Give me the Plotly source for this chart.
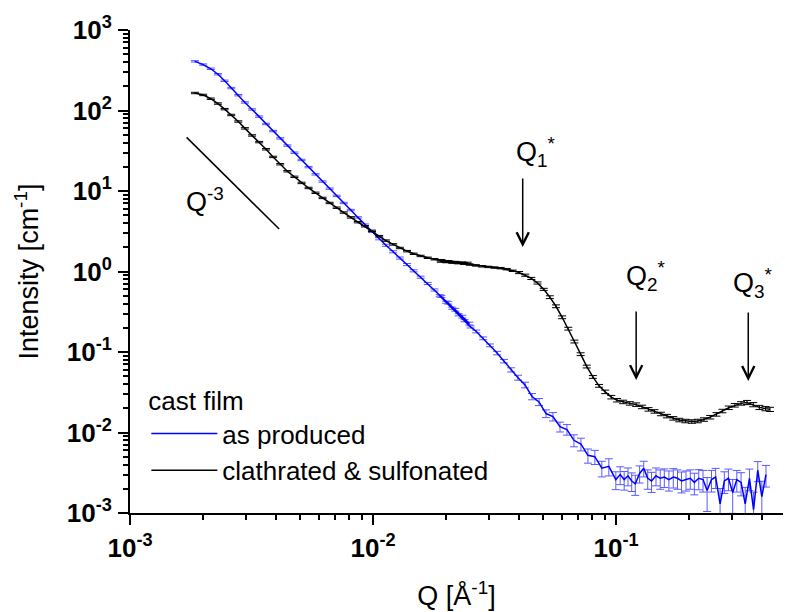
import math
import plotly.graph_objects as go

# ---------------- data ----------------
blue_q = [0.00185, 0.00200, 0.00215, 0.00230, 0.00245, 0.00261, 0.00279, 0.00297, 0.00318, 0.00340,
          0.00363, 0.00388, 0.00415, 0.00444, 0.00475, 0.00508, 0.00543, 0.00580, 0.00620, 0.00663,
          0.00709, 0.00758, 0.00810, 0.00866, 0.00926, 0.00990, 0.0106, 0.0113, 0.0121, 0.0129,
          0.0138, 0.0147, 0.0157, 0.0168, 0.0179, 0.0191, 0.0204, 0.0218, 0.0233, 0.0249,
          0.0188, 0.0200, 0.0212, 0.0225, 0.0238, 0.0252, 0.0266, 0.0284, 0.0303, 0.0324,
          0.0346, 0.0370, 0.0395, 0.0422, 0.0451, 0.0482, 0.0515, 0.0550, 0.0588, 0.0628,
          0.0671, 0.0717, 0.0766, 0.0818, 0.0874, 0.0934, 0.0998, 0.104, 0.108, 0.112,
          0.116, 0.120, 0.125, 0.130, 0.135, 0.140, 0.146, 0.152, 0.158, 0.165,
          0.172, 0.179, 0.186, 0.194, 0.202, 0.210, 0.219, 0.228, 0.237, 0.247,
          0.257, 0.268, 0.279, 0.290, 0.302, 0.314, 0.327, 0.340, 0.354, 0.368,
          0.383, 0.398, 0.414]
blue_i = [408, 372, 330, 282, 234, 190, 155, 126, 103, 84,
          68, 55.5, 45, 36.7, 29.9, 24.3, 19.8, 16.1, 13.1, 10.7,
          8.7, 7.1, 5.8, 4.7, 3.82, 3.11, 2.55, 2.12, 1.76, 1.47,
          1.22, 1.02, 0.85, 0.71, 0.59, 0.49, 0.41, 0.335, 0.275, 0.226,
          0.50, 0.415, 0.35, 0.29, 0.245, 0.205, 0.180, 0.148, 0.121, 0.097,
          0.077, 0.060, 0.048, 0.039, 0.028, 0.024, 0.0172, 0.0158, 0.0118, 0.0109,
          0.0080, 0.0072, 0.0052, 0.0050, 0.0036, 0.0038, 0.0026, 0.0030, 0.0026, 0.0029,
          0.0025, 0.0023, 0.0031, 0.0036, 0.0027, 0.0025, 0.0029, 0.0027, 0.0028, 0.0026,
          0.0028, 0.0027, 0.0025, 0.0026, 0.0027, 0.0024, 0.0027, 0.0026, 0.0019, 0.0026,
          0.0028, 0.0013, 0.0025, 0.0027, 0.0018, 0.0026, 0.0024, 0.0013, 0.0027, 0.0011,
          0.0034, 0.0016, 0.0030]
blue_err_pct = [2, 2, 2, 2, 2, 2, 2, 2, 2, 2,
                2, 2, 2, 2, 2, 2, 2, 2, 2, 2,
                2, 2, 2, 2, 2, 2, 3, 3, 3, 3,
                3, 3, 3, 3, 3, 3, 4, 4, 4, 4,
                3, 3, 3, 3, 3, 3, 4, 4, 4, 5,
                5, 6, 7, 8, 9, 10, 11, 12, 14, 15,
                17, 18, 20, 20, 22, 24, 25, 25, 26, 25,
                26, 28, 24, 22, 27, 28, 25, 27, 26, 28,
                27, 27, 29, 28, 27, 30, 28, 30, 45, 30,
                28, 55, 30, 30, 45, 30, 32, 60, 30, 65,
                28, 55, 30]

black_q = [0.00185, 0.00200, 0.00215, 0.00230, 0.00245, 0.00261, 0.00279, 0.00297, 0.00318, 0.00340,
           0.00363, 0.00388, 0.00415, 0.00444, 0.00475, 0.00508, 0.00543, 0.00580, 0.00620, 0.00663,
           0.00709, 0.00758, 0.00810, 0.00866, 0.00926, 0.00990, 0.0106, 0.0113, 0.0121, 0.0129,
           0.0138, 0.0147, 0.0157, 0.0168, 0.0179, 0.0191, 0.0204, 0.0218, 0.0233, 0.0245,
           0.0190, 0.0200, 0.0212, 0.0224, 0.0237, 0.0250, 0.0265, 0.0281, 0.0298, 0.0316,
           0.0335, 0.0355, 0.0376, 0.0399, 0.0423, 0.0448, 0.0475, 0.0504, 0.0534, 0.0566,
           0.0600, 0.0636, 0.0674, 0.0715, 0.0758, 0.0803, 0.0851, 0.0902, 0.0956, 0.101,
           0.107, 0.114, 0.121, 0.128, 0.136, 0.144, 0.153, 0.162, 0.172, 0.182,
           0.193, 0.205, 0.217, 0.230, 0.244, 0.259, 0.274, 0.291, 0.308, 0.327,
           0.346, 0.367, 0.389, 0.412, 0.430]
black_i = [165, 156, 140, 122, 104, 88, 73, 60, 49, 40.5,
           33, 26.5, 21.5, 17.6, 15.0, 12.6, 10.9, 9.5, 8.2, 7.1,
           6.2, 5.4, 4.7, 4.1, 3.65, 3.2, 2.75, 2.42, 2.17, 1.96,
           1.79, 1.66, 1.56, 1.48, 1.42, 1.38, 1.34, 1.31, 1.29, 1.28,
           1.33, 1.31, 1.29, 1.27, 1.25, 1.22, 1.19, 1.16, 1.14, 1.12,
           1.10, 1.07, 1.02, 0.97, 0.90, 0.82, 0.72, 0.60, 0.48, 0.37,
           0.27, 0.195, 0.135, 0.094, 0.066, 0.049, 0.038, 0.032, 0.0275, 0.0252,
           0.0240, 0.0230, 0.0222, 0.0208, 0.0194, 0.0183, 0.0170, 0.0160, 0.0150, 0.0143,
           0.0139, 0.0137, 0.0139, 0.0145, 0.0155, 0.0168, 0.0185, 0.0203, 0.0218, 0.0230,
           0.0236, 0.0222, 0.0205, 0.0198, 0.0194]
black_err_pct = [2, 2, 2, 2, 2, 2, 2, 2, 2, 2,
                 2, 2, 2, 2, 2, 2, 2, 2, 2, 2,
                 2, 2, 2, 2, 2, 2, 2, 2, 2, 2,
                 2, 2, 2, 2, 2, 2, 2, 2, 2, 2,
                 2, 2, 2, 2, 2, 2, 2, 2, 2, 2,
                 2, 2, 2, 3, 3, 3, 3, 3, 4, 4,
                 4, 4, 4, 4, 4, 4, 4, 5, 5, 5,
                 5, 5, 5, 5, 5, 5, 5, 5, 5, 5,
                 5, 5, 5, 5, 5, 5, 5, 5, 5, 5,
                 6, 6, 6, 6, 6]

# Q^-3 guide line
guide_q = [0.00171, 0.00411]
guide_i = [46.4, 3.37]

# peak markers
peak_labels = ["Q<sub>1</sub><sup>*</sup>", "Q<sub>2</sub><sup>*</sup>", "Q<sub>3</sub><sup>*</sup>"]
peak_q = [0.0413, 0.121, 0.350]
peak_tip_i = [2.01, 0.0449, 0.0437]

series_names = ["as produced", "clathrated & sulfonated"]
legend_title = "cast film"

y_tickvals = [1e-3, 1e-2, 1e-1, 1e0, 1e1, 1e2, 1e3]
y_ticktext = ["10<sup>-3</sup>", "10<sup>-2</sup>", "10<sup>-1</sup>", "10<sup>0</sup>",
              "10<sup>1</sup>", "10<sup>2</sup>", "10<sup>3</sup>"]
x_tickvals = [1e-3, 1e-2, 1e-1]
x_ticktext = ["10<sup>-3</sup>", "10<sup>-2</sup>", "10<sup>-1</sup>"]

x_title = "Q [Å<sup>-1</sup>]"
y_title = "Intensity [cm<sup>-1</sup>]"

# ---------------- figure ----------------
FONT = "Liberation Sans"

blue_err = [v * p / 100.0 for v, p in zip(blue_i, blue_err_pct)]
black_err = [v * p / 100.0 for v, p in zip(black_i, black_err_pct)]

fig = go.Figure()
fig.add_trace(go.Scatter(
    x=blue_q, y=blue_i, mode="lines", name=series_names[0],
    line=dict(color="#0000ff", width=1.5),
    error_y=dict(type="data", array=blue_err, visible=True, color="#5a5aff",
                 thickness=1, width=4),
))
fig.add_trace(go.Scatter(
    x=black_q, y=black_i, mode="lines", name=series_names[1],
    line=dict(color="#000000", width=1.5),
    error_y=dict(type="data", array=black_err, visible=True, color="#000000",
                 thickness=1, width=4),
))
fig.add_trace(go.Scatter(
    x=guide_q, y=guide_i, mode="lines", showlegend=False,
    line=dict(color="#000000", width=1.5),
))

annotations = []
label_xshift = [-9, -12, -17]
label_yshift = [95, 104, 98]
for lab, q, ti, xs, ys in zip(peak_labels, peak_q, peak_tip_i, label_xshift, label_yshift):
    annotations.append(dict(
        x=math.log10(q), y=math.log10(ti), xref="x", yref="y",
        text="", showarrow=True, ax=0, ay=-70, axref="pixel", ayref="pixel",
        arrowhead=5, arrowsize=1.6, arrowwidth=1.5, arrowcolor="#000000",
    ))
    annotations.append(dict(
        x=math.log10(q), y=math.log10(ti), xref="x", yref="y",
        text=lab, showarrow=False, xanchor="left", yanchor="middle",
        xshift=xs, yshift=ys, font=dict(family=FONT, size=27, color="#000000"),
    ))
annotations.append(dict(
    x=0.083, y=0.648, xref="paper", yref="paper", text="Q<sup>-3</sup>",
    showarrow=False, xanchor="left", yanchor="middle",
    font=dict(family=FONT, size=27, color="#000000"),
))

axis_common = dict(
    type="log", showgrid=False, zeroline=False, showline=True, linecolor="#000000",
    linewidth=2, ticks="outside", ticklen=10, tickwidth=2, tickcolor="#000000",
    tickmode="array", mirror=False,
    tickfont=dict(family=FONT, size=26, color="#000000", weight="bold"),
    minor=dict(ticks="outside", ticklen=5, tickwidth=1.5, tickcolor="#000000",
               dtick="D1", showgrid=False),
)

fig.update_layout(
    width=785, height=612,
    margin=dict(l=130, r=2, t=30, b=99),
    paper_bgcolor="#ffffff", plot_bgcolor="#ffffff",
    font=dict(family=FONT, color="#000000"),
    xaxis=dict(axis_common, range=[-3, -0.313], tickvals=x_tickvals, ticktext=x_ticktext,
               ticklabelstandoff=1,
               title=dict(text=x_title, font=dict(family=FONT, size=27), standoff=24)),
    yaxis=dict(axis_common, range=[-3, 3], tickvals=y_tickvals, ticktext=y_ticktext,
               ticklabelstandoff=1,
               title=dict(text=y_title, font=dict(family=FONT, size=27), standoff=20)),
    legend=dict(
        x=0.025, y=0.283, xanchor="left", yanchor="top",
        bgcolor="rgba(0,0,0,0)", borderwidth=0,
        title=dict(text=legend_title, font=dict(family=FONT, size=26)),
        font=dict(family=FONT, size=26, color="#000000"),
        itemwidth=66, tracegroupgap=0,
    ),
    annotations=annotations,
    showlegend=True,
)

fig.write_html("out.html")
